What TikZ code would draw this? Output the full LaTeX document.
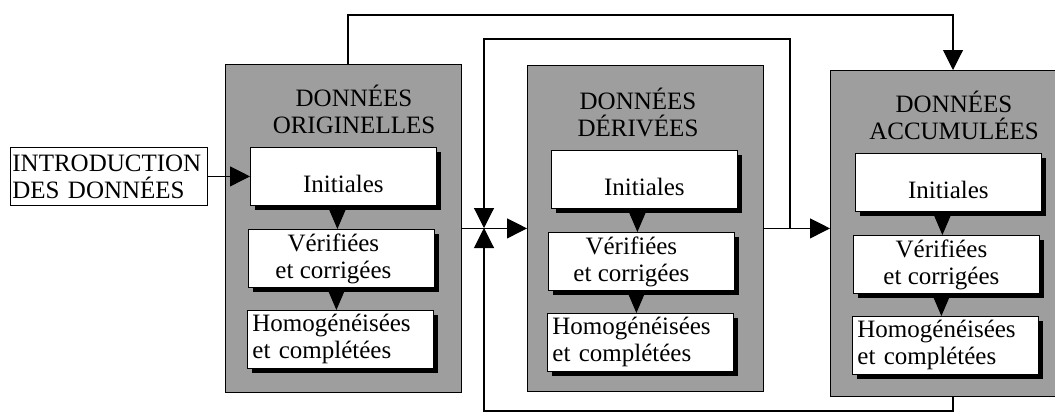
\documentclass[tikz,border=0pt]{standalone}
\usepackage{fontspec}
\setmainfont{Liberation Serif}
\usetikzlibrary{arrows.meta,shadows}
\begin{document}
\begin{tikzpicture}[x=1pt,y=-1pt,
  txt/.style={font=\fontsize{25}{27}\selectfont},
  panel/.style={draw=black, line width=0.8pt, fill=black!38, inner sep=0pt, anchor=north west},
  inbox/.style={txt, draw=black, line width=0.8pt, fill=white, minimum width=186pt, minimum height=58pt,
    anchor=north west, inner sep=0pt,
    drop shadow={shadow xshift=5pt, shadow yshift=-5pt, fill=black, opacity=1}},
  inibox/.style={inbox, text height=32pt, text depth=0pt},
  verbox/.style={inbox, align=center},
  hombox/.style={inbox, align=left, text width=176pt, inner xsep=5pt},
  title/.style={txt, align=center, inner sep=0pt},
  bigarrow/.style={-{Triangle[length=20pt,width=20pt]}, line width=1.1pt},
  smallarrow/.style={-{Triangle[length=19pt,width=16pt]}, line width=1.1pt}]
\useasboundingbox (0,0) rectangle (1055,416);

% panels
\node[panel, minimum width=236pt, minimum height=328pt] (p1) at (225,64) {};
\node[panel, minimum width=236pt, minimum height=326pt] (p2) at (527,65) {};
\node[panel, minimum width=226pt, minimum height=326pt] (p3) at (830,70) {};

% titles
\node[title] (t1) at (354,109) {DONNÉES\\ORIGINELLES};
\node[title] (t2) at (638,112) {DONNÉES\\DÉRIVÉES};
\node[title] (t3) at (954,115) {DONNÉES\\ACCUMULÉES};

% input
\node[txt, draw=black, line width=0.8pt, fill=white, anchor=north west, minimum height=58pt,
  align=left, text width=193pt, inner xsep=2pt, inner ysep=0pt] (intro) at (10,147)
  {INTRODUCTION\\DES DONNÉES};

% inner boxes
\node[inibox] (ini1) at (250,147) {Initiales\hspace{16pt}};
\node[verbox] (ver1) at (248,229) {Vérifiées\hspace*{16pt}\\et corrigées\hspace*{16pt}};
\node[hombox] (hom1) at (247,310) {Homogénéisées\\et complétées};

\node[inibox] (ini2) at (551,150) {Initiales\hspace{20pt}};
\node[verbox] (ver2) at (548,232) {Vérifiées\hspace*{20pt}\\et corrigées\hspace*{20pt}};
\node[hombox] (hom2) at (547,313) {Homogénéisées\\et complétées};

\node[inibox] (ini3) at (855,153) {Initiales\hspace{12pt}};
\node[verbox] (ver3) at (853,235) {Vérifiées\hspace*{10pt}\\et corrigées\hspace*{10pt}};
\node[hombox] (hom3) at (852,316) {Homogénéisées\\et complétées};

% vertical small arrows
\foreach \i in {1,2,3}{
  \draw[smallarrow] ([xshift=-4pt]ver\i.north |- ini\i.south) -- ([xshift=-4pt]ver\i.north);
  \draw[smallarrow] ([xshift=-4pt]hom\i.north |- ver\i.south) -- ([xshift=-4pt]hom\i.north);
}

% coordinates for routing
\coordinate (j1) at (484,228);
\coordinate (j2) at (790,228);
\coordinate (r1) at (348,15);
\coordinate (r2) at (484,39);
\coordinate (r3) at (484,411);
\coordinate (x3) at (953,0);

% connectors
\draw[bigarrow] (intro) -- (ini1);
\draw[bigarrow] (p1.east) -- (p2.west);
\draw[bigarrow] (p2.east) -- (p2.east -| p3.west);
\draw[bigarrow] (p1.north -| r1) -- (r1) -| (p3.north -| x3);
\draw[bigarrow] (j2) |- (r2) -- (j1);
\draw[bigarrow] (p3.south -| x3) |- (r3) -- (j1);
\end{tikzpicture}
\end{document}
